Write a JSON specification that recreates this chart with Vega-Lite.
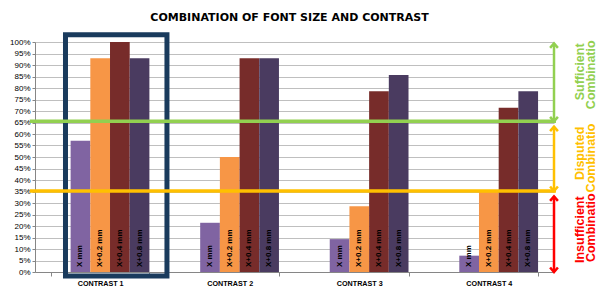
{
  "$schema": "https://vega.github.io/schema/vega-lite/v6.json",
  "width": 519,
  "height": 230,
  "autosize": {"type": "none"},
  "padding": {"left": 35, "top": 42, "right": 42, "bottom": 16},
  "background": "white",
  "title": {
    "text": "COMBINATION OF FONT SIZE AND CONTRAST",
    "font": "DejaVu Sans",
    "fontSize": 11,
    "fontWeight": "bold",
    "color": "#000000",
    "anchor": "middle",
    "frame": "group",
    "baseline": "alphabetic",
    "offset": 0,
    "dx": -5
  },
  "config": {"view": {"stroke": null}, "font": "Liberation Sans"},
  "datasets": {
    "bars": [
      {"contrast": "CONTRAST 1", "series": "X mm", "value": 0.571},
      {"contrast": "CONTRAST 1", "series": "X+0.2 mm", "value": 0.929},
      {"contrast": "CONTRAST 1", "series": "X+0.4 mm", "value": 1.0},
      {"contrast": "CONTRAST 1", "series": "X+0.8 mm", "value": 0.929},
      {"contrast": "CONTRAST 2", "series": "X mm", "value": 0.214},
      {"contrast": "CONTRAST 2", "series": "X+0.2 mm", "value": 0.5},
      {"contrast": "CONTRAST 2", "series": "X+0.4 mm", "value": 0.929},
      {"contrast": "CONTRAST 2", "series": "X+0.8 mm", "value": 0.929},
      {"contrast": "CONTRAST 3", "series": "X mm", "value": 0.143},
      {"contrast": "CONTRAST 3", "series": "X+0.2 mm", "value": 0.286},
      {"contrast": "CONTRAST 3", "series": "X+0.4 mm", "value": 0.786},
      {"contrast": "CONTRAST 3", "series": "X+0.8 mm", "value": 0.857},
      {"contrast": "CONTRAST 4", "series": "X mm", "value": 0.071},
      {"contrast": "CONTRAST 4", "series": "X+0.2 mm", "value": 0.357},
      {"contrast": "CONTRAST 4", "series": "X+0.4 mm", "value": 0.714},
      {"contrast": "CONTRAST 4", "series": "X+0.8 mm", "value": 0.786}
    ],
    "zones": [
      {"zone": "Sufficient", "line1": "Sufficient", "line2": "Combinatio", "top": 0.994, "bottom": 0.655},
      {"zone": "Disputed", "line1": "Disputed", "line2": "Combinatio", "top": 0.632, "bottom": 0.352},
      {"zone": "Insufficient", "line1": "Insufficient", "line2": "Combinatio", "top": 0.329, "bottom": 0.0}
    ]
  },
  "resolve": {"scale": {"x": "independent", "color": "independent"}, "axis": {"x": "independent", "y": "independent"}},
  "layer": [
    {
      "data": {"name": "bars"},
      "encoding": {
        "x": {
          "field": "contrast",
          "type": "nominal",
          "sort": null,
          "scale": {"paddingInner": 0.24, "paddingOuter": 0.123},
          "axis": {
            "title": null,
            "labelAngle": 0,
            "labelFont": "Liberation Sans",
            "labelFontSize": 7.2,
            "labelFontWeight": "bold",
            "labelColor": "#000000",
            "labelPadding": 3,
            "tickBand": "extent",
            "tickSize": 4,
            "tickColor": "#868686",
            "domainColor": "#868686",
            "grid": false
          }
        },
        "xOffset": {
          "field": "series",
          "type": "nominal",
          "scale": {"domain": ["-", "X mm", "X+0.2 mm", "X+0.4 mm", "X+0.8 mm"], "paddingInner": 0, "paddingOuter": 0}
        },
        "y": {
          "field": "value",
          "type": "quantitative",
          "scale": {"domain": [0, 1], "nice": false},
          "axis": {
            "title": null,
            "values": [0, 0.05, 0.1, 0.15, 0.2, 0.25, 0.3, 0.35, 0.4, 0.45, 0.5, 0.55, 0.6, 0.65, 0.7, 0.75, 0.8, 0.85, 0.9, 0.95, 1.0],
            "format": ".0%",
            "labelFont": "Liberation Sans",
            "labelFontSize": 8,
            "labelColor": "#000000",
            "labelPadding": 2,
            "labelOverlap": false,
            "tickSize": 3,
            "tickColor": "#868686",
            "domainColor": "#868686",
            "gridColor": "#BFBFBF",
            "gridWidth": 1
          }
        }
      },
      "layer": [
        {
          "mark": {"type": "bar"},
          "encoding": {
            "color": {
              "field": "series",
              "type": "nominal",
              "scale": {"domain": ["X mm", "X+0.2 mm", "X+0.4 mm", "X+0.8 mm"], "range": ["#8064A2", "#F79646", "#772C2A", "#4A3B60"]},
              "legend": null
            }
          }
        },
        {
          "mark": {"type": "text", "angle": 270, "align": "left", "baseline": "middle", "dx": 5, "font": "Liberation Sans", "fontSize": 8, "fontWeight": "bold", "color": "#000000"},
          "encoding": {
            "y": {"datum": 0},
            "text": {"field": "series"}
          }
        }
      ]
    },
    {
      "data": {"name": "zones"},
      "layer": [
        {
          "data": {"values": [{}]},
          "mark": {"type": "rect", "filled": false, "stroke": "#1A3B5D", "strokeWidth": 5},
          "encoding": {
            "x": {"datum": 0.235, "type": "quantitative", "scale": {"domain": [0, 4], "nice": false, "zero": false}, "axis": null},
            "x2": {"datum": 1.017},
            "y": {"datum": 1.031, "type": "quantitative", "axis": null},
            "y2": {"datum": -0.017}
          }
        },
        {
          "transform": [{"filter": "datum.zone !== 'Insufficient'"}],
          "mark": {"type": "rule", "strokeWidth": 3.5},
          "encoding": {
            "x": {"datum": -0.04, "type": "quantitative", "axis": null},
            "x2": {"datum": 4.015},
            "y": {"field": "bottom", "type": "quantitative", "axis": null},
            "color": {"field": "zone", "type": "nominal", "scale": {"domain": ["Sufficient", "Disputed", "Insufficient"], "range": ["#92D050", "#FFC000", "#FF0000"]}, "legend": null}
          }
        },
        {
          "mark": {"type": "rule", "strokeWidth": 2.5},
          "encoding": {
            "x": {"datum": 4.0, "type": "quantitative", "axis": null},
            "y": {"field": "top", "type": "quantitative", "axis": null},
            "y2": {"field": "bottom"},
            "color": {"field": "zone", "type": "nominal", "legend": null}
          }
        },
        {
          "mark": {"type": "point", "shape": "M-1.3,1.5L0,0L1.3,1.5", "filled": false, "size": 36, "strokeWidth": 2.5, "opacity": 1},
          "encoding": {
            "x": {"datum": 4.0, "type": "quantitative", "axis": null},
            "y": {"field": "top", "type": "quantitative", "axis": null},
            "color": {"field": "zone", "type": "nominal", "legend": null}
          }
        },
        {
          "mark": {"type": "point", "shape": "M-1.3,-1.5L0,0L1.3,-1.5", "filled": false, "size": 36, "strokeWidth": 2.5, "opacity": 1},
          "encoding": {
            "x": {"datum": 4.0, "type": "quantitative", "axis": null},
            "y": {"field": "bottom", "type": "quantitative", "axis": null},
            "color": {"field": "zone", "type": "nominal", "legend": null}
          }
        },
        {
          "mark": {"type": "text", "angle": 270, "align": "right", "baseline": "middle", "dx": 0, "font": "Liberation Sans", "fontSize": 12.5, "fontWeight": "bold"},
          "encoding": {
            "x": {"datum": 4.2, "type": "quantitative", "axis": null},
            "y": {"field": "top", "type": "quantitative", "axis": null},
            "text": {"field": "line1"},
            "color": {"field": "zone", "type": "nominal", "legend": null}
          }
        },
        {
          "mark": {"type": "text", "angle": 270, "align": "right", "baseline": "middle", "dx": 3, "font": "Liberation Sans", "fontSize": 12.5, "fontWeight": "bold"},
          "encoding": {
            "x": {"datum": 4.288, "type": "quantitative", "axis": null},
            "y": {"field": "top", "type": "quantitative", "axis": null},
            "text": {"field": "line2"},
            "color": {"field": "zone", "type": "nominal", "legend": null}
          }
        }
      ]
    }
  ]
}
